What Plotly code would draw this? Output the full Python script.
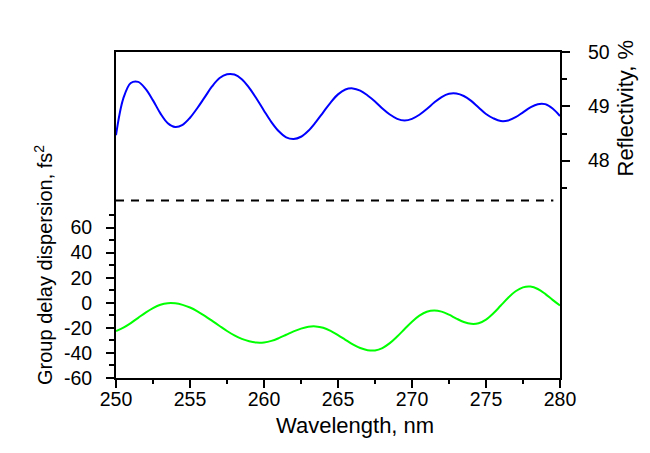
import plotly.graph_objects as go

# Wavelength grid (nm), values every 0.5 nm
wavelength = [250.0 + 0.5 * i for i in range(61)]

reflectivity = [
    48.47, 49.15, 49.43, 49.45, 49.32, 49.11, 48.87, 48.69, 48.62, 48.66,
    48.79, 48.97, 49.17, 49.37, 49.52, 49.59, 49.585, 49.50, 49.34, 49.14,
    48.92, 48.71, 48.54, 48.43, 48.40, 48.44, 48.55, 48.71, 48.89, 49.07,
    49.22, 49.31, 49.33, 49.29, 49.20, 49.09, 48.96, 48.85, 48.77, 48.74,
    48.77, 48.845, 48.95, 49.07, 49.17, 49.23, 49.235, 49.19, 49.10, 48.98,
    48.86, 48.78, 48.73, 48.74, 48.80, 48.89, 48.98, 49.04, 49.04, 48.96,
    48.82,
]

gdd = [
    -22.5, -19.8, -16.2, -12.0, -7.8, -4.2, -1.55, -0.3, -0.4, -1.65,
    -3.8, -6.8, -10.4, -14.4, -18.5, -22.5, -26.0, -28.8, -30.7, -31.7,
    -31.6, -30.4, -28.2, -25.5, -22.8, -20.6, -19.1, -18.85, -19.95, -22.4,
    -25.8, -29.55, -33.2, -36.1, -37.8, -38.0, -36.1, -32.2, -26.9, -20.95,
    -15.1, -10.3, -7.15, -6.1, -7.05, -9.5, -12.6, -15.3, -16.8, -16.35,
    -13.4, -8.4, -2.2, 4.0, 9.15, 12.3, 12.9, 11.0, 7.1, 2.3,
    -2.2,
]

x_ticks = [250, 255, 260, 265, 270, 275, 280]
x_minor = [252.5, 257.5, 262.5, 267.5, 272.5, 277.5]
gdd_ticks = [-60, -40, -20, 0, 20, 40, 60]
gdd_labels = ["-60", "-40", "-20", "0", "20", "40", "60"]
gdd_minor = [-50, -30, -10, 10, 30, 50, 70]
refl_ticks = [48, 49, 50]
refl_minor = [47.5, 48.5, 49.5]
separator_level = 81.5  # in GDD units

FONT = "Liberation Sans, Arial, sans-serif"

fig = go.Figure()
fig.add_trace(go.Scatter(x=wavelength, y=gdd, mode="lines", line=dict(color="#00ff00", width=2, shape="spline"),
                         yaxis="y", showlegend=False, hoverinfo="skip"))
fig.add_trace(go.Scatter(x=wavelength, y=reflectivity, mode="lines", line=dict(color="#0000ff", width=2, shape="spline"),
                         yaxis="y2", showlegend=False, hoverinfo="skip"))

fig.add_shape(type="line", xref="x", yref="y", x0=250, x1=279.55, y0=separator_level, y1=separator_level,
              line=dict(color="black", width=2, dash="8px,7px"))

common = dict(showline=True, linecolor="black", linewidth=2, ticks="outside", tickcolor="black",
              tickwidth=2, ticklen=8, showgrid=False, zeroline=False,
              tickfont=dict(family=FONT, size=19.5, color="black"))

fig.update_layout(
    width=650, height=453,
    margin=dict(l=116, r=90, t=52, b=75),
    paper_bgcolor="white", plot_bgcolor="white",
    xaxis=dict(range=[250, 280], tickmode="array", tickvals=x_ticks, mirror=True, ticklabelstandoff=-5,
               minor=dict(tickmode="array", tickvals=x_minor, ticks="outside", ticklen=4, tickwidth=2, tickcolor="black"),
               **common),
    yaxis=dict(range=[-60, 200], tickmode="array", tickvals=gdd_ticks, ticktext=gdd_labels, ticklabelstandoff=10,
               minor=dict(tickmode="array", tickvals=gdd_minor, ticks="outside", ticklen=5, tickwidth=2, tickcolor="black"),
               **common),
    yaxis2=dict(range=[44, 50], overlaying="y", side="right", tickmode="array", tickvals=refl_ticks, ticklabelstandoff=14,
                minor=dict(tickmode="array", tickvals=refl_minor, ticks="outside", ticklen=5, tickwidth=2, tickcolor="black"),
                **common),
    annotations=[
        dict(text="Wavelength, nm", xref="paper", yref="paper", x=0.538, y=-0.145, xanchor="center", yanchor="middle",
             showarrow=False, font=dict(family=FONT, size=22, color="black")),
        dict(text="Group delay dispersion, fs<sup>2</sup>", xref="paper", yref="paper", x=(43 - 116) / 444, y=(378 - 265) / 326,
             xanchor="center", yanchor="middle", textangle=-90, showarrow=False,
             font=dict(family=FONT, size=20, color="black")),
        dict(text="Reflectivity, %", xref="paper", yref="paper", x=(625 - 116) / 444, y=(378 - 108.5) / 326,
             xanchor="center", yanchor="middle", textangle=-90, showarrow=False,
             font=dict(family=FONT, size=22, color="black")),
    ],
)

fig.write_html("out.html")
